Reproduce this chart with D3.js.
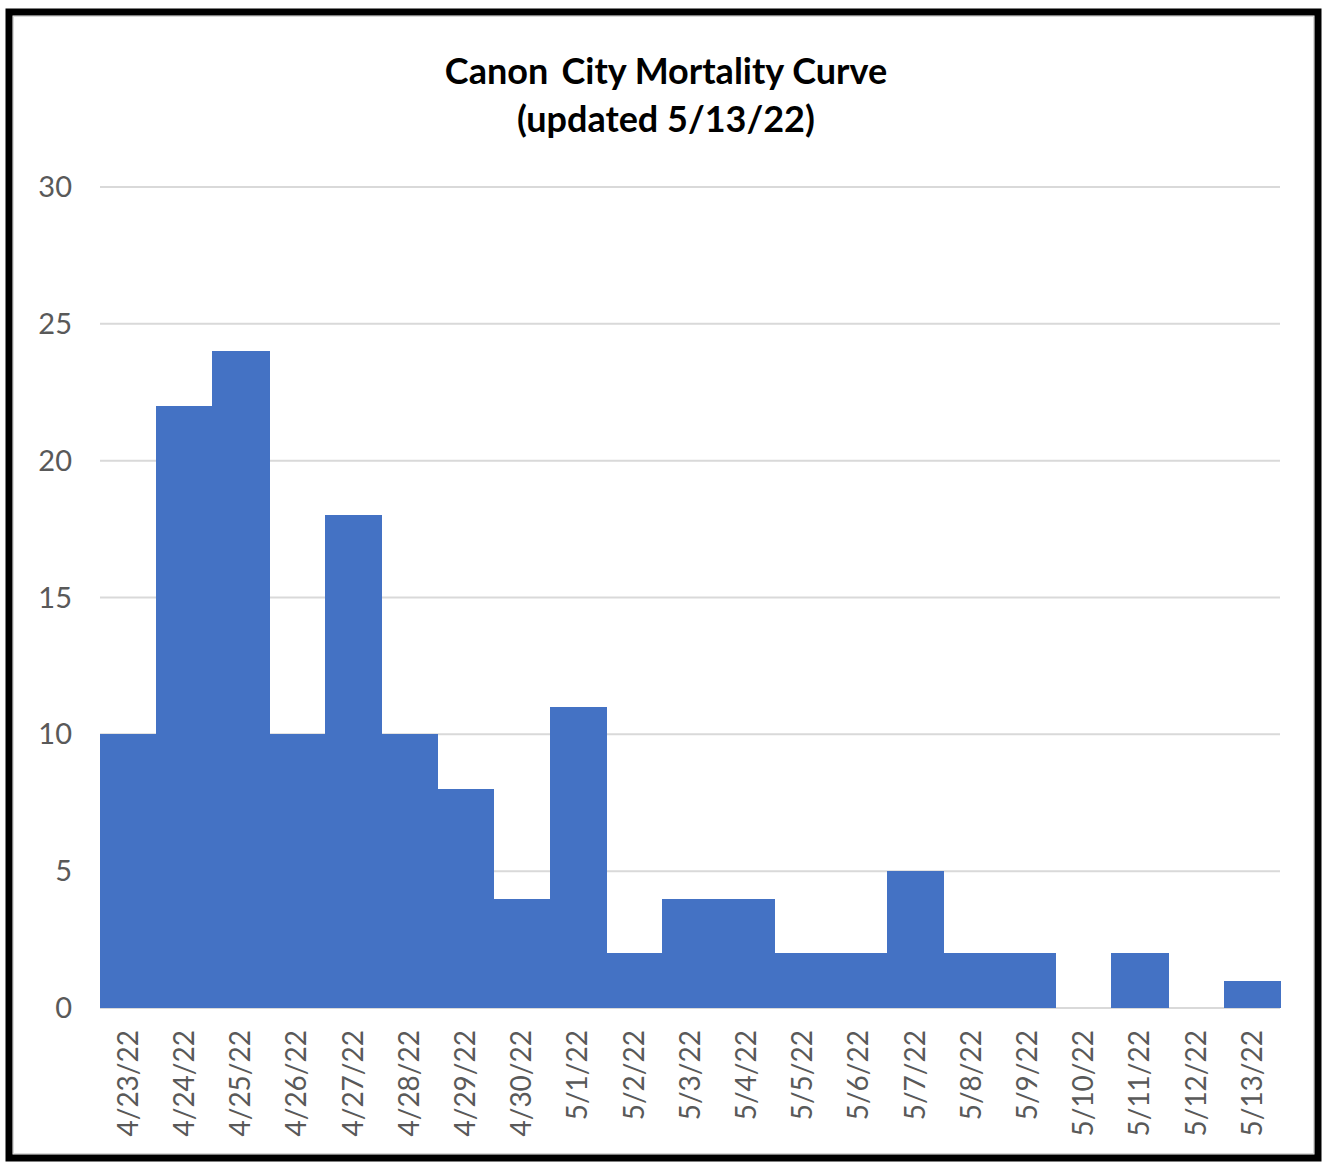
<!DOCTYPE html>
<html>
<head>
<meta charset="utf-8">
<script src="https://cdn.jsdelivr.net/npm/d3@7"></script>
<style>
  body { margin: 0; background: #fff; }
  text { font-family: Lato, "Open Sans", sans-serif; }
</style>
</head>
<body>
<script>
let width = 1324,
    height = 1165;

// data
let dates = ["4/23/22", "4/24/22", "4/25/22", "4/26/22", "4/27/22", "4/28/22", "4/29/22",
    "4/30/22", "5/1/22", "5/2/22", "5/3/22", "5/4/22", "5/5/22", "5/6/22", "5/7/22",
    "5/8/22", "5/9/22", "5/10/22", "5/11/22", "5/12/22", "5/13/22"];
let deaths = [10, 22, 24, 10, 18, 10, 8, 4, 11, 2, 4, 4, 2, 2, 5, 2, 2, 0, 2, 0, 1];
let yTicks = [0, 5, 10, 15, 20, 25, 30];
let titleLines = ["Canon\u2009 City Mortality Curve", "(updated 5/13/22)"];

let svg = d3.select("body").append("svg")
    .attr("width", width)
    .attr("height", height);

// outer frame
svg.append("rect")
    .attr("x", 9).attr("y", 12)
    .attr("width", 1309).attr("height", 1146)
    .attr("fill", "#fff")
    .attr("stroke", "#000")
    .attr("stroke-width", 7)
svg.append("rect")
    .attr("x", 13.5).attr("y", 16.5)
    .attr("width", 1300).attr("height", 1137)
    .attr("fill", "none")
    .attr("stroke", "#d9d9d9")
    .attr("stroke-width", 1)

let x = d3.scaleBand()
    .domain(dates)
    .range([100, 1280])
    .padding(0);

let y = d3.scaleLinear()
    .domain([0, 30])
    .range([1008, 187]);

// gridlines
svg.append("g")
    .selectAll("line")
    .data(yTicks)
    .enter().append("line")
    .attr("x1", 100)
    .attr("x2", 1280)
    .attr("y1", d => y(d))
    .attr("y2", d => y(d))
    .attr("stroke", "#d9d9d9")
    .attr("stroke-width", 2)

// y labels
svg.append("g")
    .selectAll("text")
    .data(yTicks)
    .enter().append("text")
    .attr("x", 72)
    .attr("y", d => y(d))
    .attr("dy", "0.35em")
    .attr("text-anchor", "end")
    .attr("fill", "#595959")
    .style("font-size", "29px")
    .text(d => d)

// bars
svg.append("g")
    .attr("shape-rendering", "crispEdges")
    .selectAll("rect")
    .data(deaths)
    .enter().append("rect")
    .attr("x", (d, i) => x(dates[i]))
    .attr("width", x.bandwidth() + 1)
    .attr("y", d => y(d))
    .attr("height", d => y(0) - y(d))
    .attr("fill", "#4472c4")

// x labels, rotated
svg.append("g")
    .selectAll("text")
    .data(dates)
    .enter().append("text")
    .attr("transform", d => "translate(" + (x(d) + x.bandwidth() / 2) + ",1030) rotate(-90)")
    .attr("dy", "0.35em")
    .attr("text-anchor", "end")
    .attr("fill", "#595959")
    .style("font-size", "28px")
    .text(d => d)

// title
svg.append("g")
    .selectAll("text")
    .data(titleLines)
    .enter().append("text")
    .attr("x", 666)
    .attr("y", (d, i) => 84 + i * 48)
    .attr("text-anchor", "middle")
    .attr("fill", "#000")
    .style("font-size", "36px")
    .style("font-weight", "bold")
    .text(d => d)
</script>
</body>
</html>
